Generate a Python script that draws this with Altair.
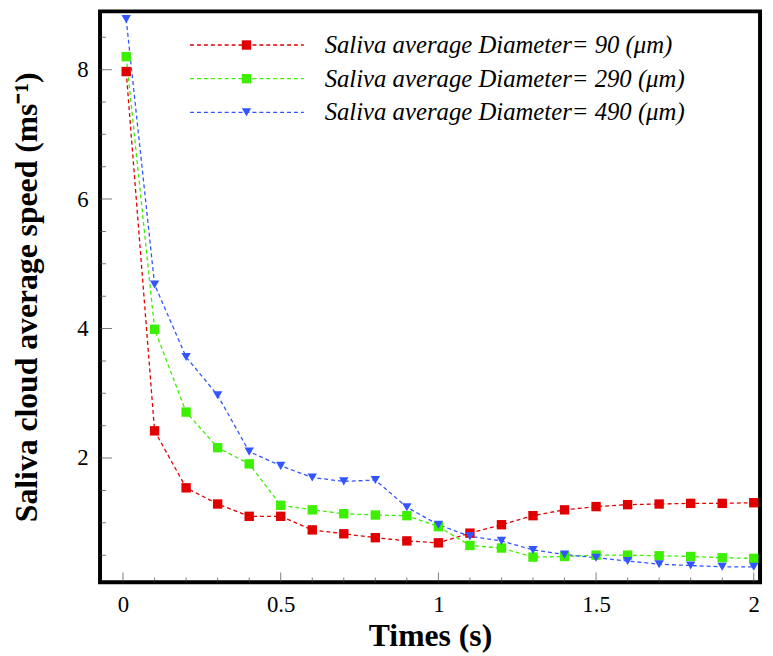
import altair as alt
import pandas as pd

times = [0.01, 0.1, 0.2, 0.3, 0.4, 0.5, 0.6, 0.7, 0.8, 0.9, 1.0,
         1.1, 1.2, 1.3, 1.4, 1.5, 1.6, 1.7, 1.8, 1.9, 2.0]
speed_90 = [7.97, 2.42, 1.54, 1.29, 1.10, 1.10, 0.89, 0.83, 0.77, 0.72, 0.69,
            0.84, 0.97, 1.11, 1.20, 1.25, 1.28, 1.29, 1.30, 1.30, 1.31]
speed_290 = [8.20, 3.99, 2.71, 2.16, 1.91, 1.27, 1.20, 1.14, 1.12, 1.11, 0.94,
             0.65, 0.61, 0.47, 0.48, 0.50, 0.50, 0.49, 0.48, 0.46, 0.45]
speed_490 = [8.78, 4.68, 3.56, 2.97, 2.10, 1.88, 1.70, 1.64, 1.66, 1.24, 0.97,
             0.79, 0.72, 0.58, 0.51, 0.46, 0.41, 0.36, 0.34, 0.32, 0.32]
series_labels = ["Saliva average Diameter= 90 (\u03bcm)",
                 "Saliva average Diameter= 290 (\u03bcm)",
                 "Saliva average Diameter= 490 (\u03bcm)"]
series_colors = ["#e00000", "#3cf000", "#3355ff"]
series_shapes = ["square", "square", "triangle-down"]
series_sizes = [90, 90, 190]

x_major = [0, 0.5, 1, 1.5, 2]
x_minor = [0.1, 0.2, 0.3, 0.4, 0.6, 0.7, 0.8, 0.9, 1.1, 1.2, 1.3, 1.4,
           1.6, 1.7, 1.8, 1.9]
y_major = [2, 4, 6, 8]
y_minor = [0.5, 1, 1.5, 2.5, 3, 3.5, 4.5, 5, 5.5, 6.5, 7, 7.5, 8.5]

rows = []
for lab, vals in zip(series_labels, [speed_90, speed_290, speed_490]):
    for t, v in zip(times, vals):
        rows.append({"series": lab, "time": t, "speed": v})
df = pd.DataFrame(rows)

W, H = 667, 577
FONT = "Liberation Serif"

xscale = alt.Scale(domain=[-0.073, 2.02], nice=False, zero=False)
yscale = alt.Scale(domain=[0.08, 8.9], nice=False, zero=False)
cscale = alt.Scale(domain=series_labels, range=series_colors)
sscale = alt.Scale(domain=series_labels, range=series_shapes)
zscale = alt.Scale(domain=series_labels, range=series_sizes)

xaxis = alt.Axis(values=x_major, format="~g", ticks=False, domain=False, grid=False,
                 labelFont=FONT, labelFontSize=23, labelColor="black", labelPadding=11,
                 title="Times (s)", titleFont=FONT, titleFontSize=32, titleFontWeight="bold",
                 titleColor="black", titleX=W / 2, titleY=64, titleBaseline="alphabetic",
                 titleAlign="center")
yaxis = alt.Axis(values=y_major, format="~g", ticks=False, domain=False, grid=False,
                 labelFont=FONT, labelFontSize=23, labelColor="black", labelPadding=12,
                 title="Saliva cloud average speed (ms\u207b\u00b9)", titleFont=FONT,
                 titleFontSize=32, titleFontWeight="bold", titleColor="black",
                 titleX=-64, titleY=H / 2, titleAngle=-90, titleBaseline="alphabetic",
                 titleAlign="center")

base = alt.Chart(df)
lines = base.mark_line(strokeDash=[4, 3], strokeWidth=1.3).encode(
    x=alt.X("time:Q", scale=xscale, axis=xaxis),
    y=alt.Y("speed:Q", scale=yscale, axis=yaxis),
    color=alt.Color("series:N", scale=cscale, legend=None),
    detail="series:N",
    order="time:Q",
)
points = base.mark_point(filled=True, opacity=1).encode(
    x=alt.X("time:Q", scale=xscale),
    y=alt.Y("speed:Q", scale=yscale),
    color=alt.Color("series:N", scale=cscale, legend=None),
    shape=alt.Shape("series:N", scale=sscale, legend=None),
    size=alt.Size("series:N", scale=zscale, legend=None),
)

tick_color = "#444444"
xmaj = alt.Chart(pd.DataFrame({"v": x_major})).mark_tick(
    clip=True, thickness=1, size=20, color=tick_color).encode(
    x=alt.X("v:Q", scale=xscale), y=alt.value(H))
xmin = alt.Chart(pd.DataFrame({"v": x_minor})).mark_tick(
    clip=True, thickness=1, size=10, color=tick_color).encode(
    x=alt.X("v:Q", scale=xscale), y=alt.value(H))
ymaj = alt.Chart(pd.DataFrame({"v": y_major})).mark_tick(
    clip=True, thickness=1, size=24, color=tick_color).encode(
    y=alt.Y("v:Q", scale=yscale), x=alt.value(0))
ymin = alt.Chart(pd.DataFrame({"v": y_minor})).mark_tick(
    clip=True, thickness=1, size=12, color=tick_color).encode(
    y=alt.Y("v:Q", scale=yscale), x=alt.value(0))

leg = alt.Chart(pd.DataFrame({"series": series_labels, "row": [0, 1, 2]})).transform_calculate(
    ly="34 + 34 * datum.row", lx1="91", lx2="206", lm="148", lt="227")
leg_lines = leg.mark_rule(strokeDash=[4, 3], strokeWidth=1.3).encode(
    x=alt.X("lx1:Q", scale=None, axis=None), x2="lx2:Q",
    y=alt.Y("ly:Q", scale=None, axis=None),
    color=alt.Color("series:N", scale=cscale, legend=None))
leg_pts = leg.mark_point(filled=True, opacity=1).encode(
    x=alt.X("lm:Q", scale=None, axis=None),
    y=alt.Y("ly:Q", scale=None, axis=None),
    color=alt.Color("series:N", scale=cscale, legend=None),
    shape=alt.Shape("series:N", scale=sscale, legend=None),
    size=alt.Size("series:N", scale=zscale, legend=None))
leg_txt = leg.mark_text(align="left", baseline="middle", font=FONT, fontSize=25,
                        fontStyle="italic", color="black").encode(
    x=alt.X("lt:Q", scale=None, axis=None),
    y=alt.Y("ly:Q", scale=None, axis=None),
    text="series:N")

chart = alt.layer(lines, points, xmaj, xmin, ymaj, ymin, leg_lines, leg_pts, leg_txt).properties(
    width=W, height=H,
    autosize=alt.AutoSizeParams(type="none"),
    padding={"left": 93, "top": 0, "right": 5, "bottom": 68},
).configure_view(stroke="black", strokeWidth=4)

chart.save("out.html", embed_options={"renderer": "svg", "actions": False})
